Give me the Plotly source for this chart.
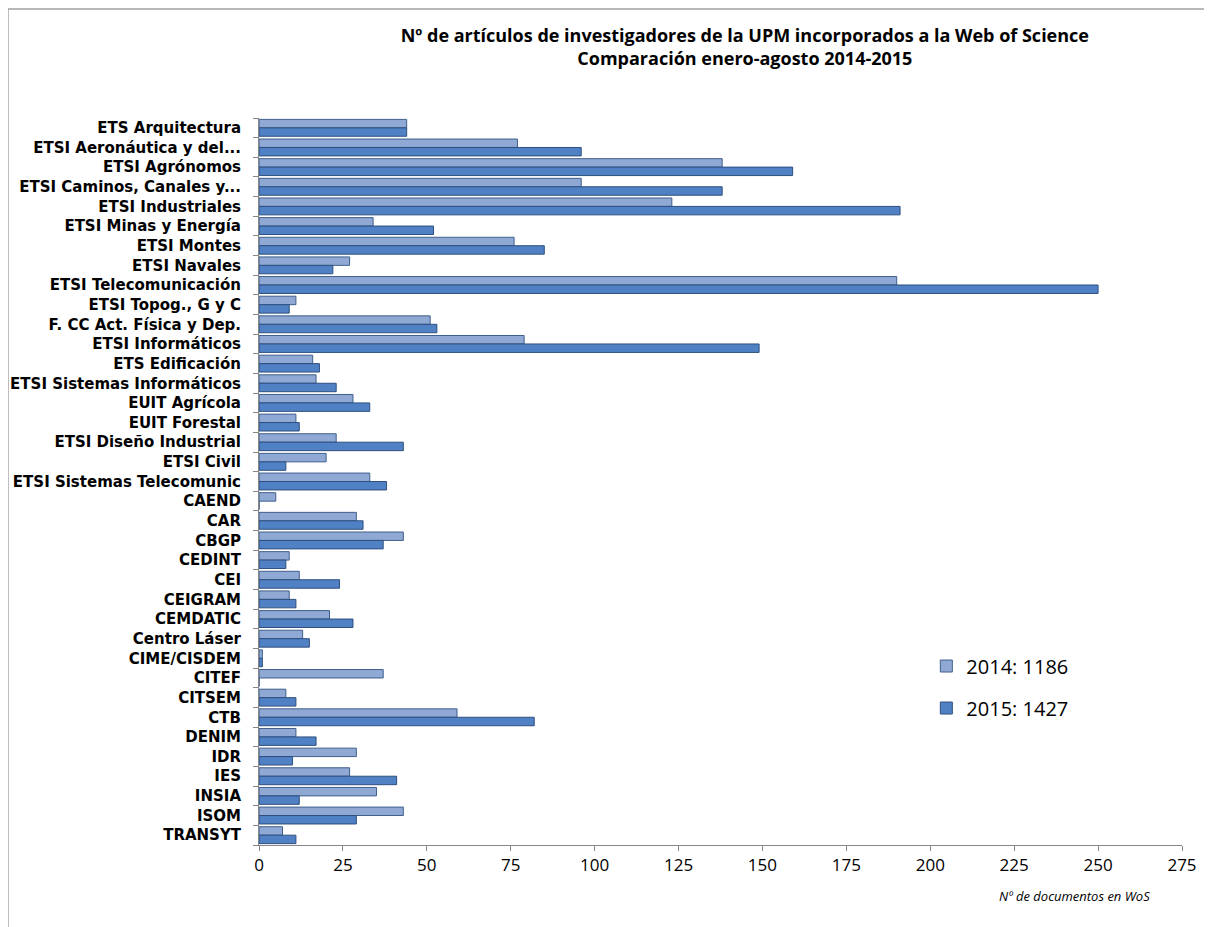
import plotly.graph_objects as go

categories = [
    "ETS Arquitectura", "ETSI Aeronáutica y del...", "ETSI Agrónomos", "ETSI Caminos, Canales y...",
    "ETSI Industriales", "ETSI Minas y Energía", "ETSI Montes", "ETSI Navales",
    "ETSI Telecomunicación", "ETSI Topog., G y C", "F. CC Act. Física y Dep.", "ETSI Informáticos",
    "ETS Edificación", "ETSI Sistemas Informáticos", "EUIT Agrícola", "EUIT Forestal",
    "ETSI Diseño Industrial", "ETSI Civil", "ETSI Sistemas Telecomunic", "CAEND", "CAR", "CBGP",
    "CEDINT", "CEI", "CEIGRAM", "CEMDATIC", "Centro Láser", "CIME/CISDEM", "CITEF", "CITSEM",
    "CTB", "DENIM", "IDR", "IES", "INSIA", "ISOM", "TRANSYT",
]
values_2014 = [44, 77, 138, 96, 123, 34, 76, 27, 190, 11, 51, 79, 16, 17, 28, 11, 23, 20, 33, 5,
               29, 43, 9, 12, 9, 21, 13, 1, 37, 8, 59, 11, 29, 27, 35, 43, 7]
values_2015 = [44, 96, 159, 138, 191, 52, 85, 22, 250, 9, 53, 149, 18, 23, 33, 12, 43, 8, 38, 0,
               31, 37, 8, 24, 11, 28, 15, 1, 0, 11, 82, 17, 10, 41, 12, 29, 11]
series_names = ["2014: 1186", "2015: 1427"]
x_ticks = [0, 25, 50, 75, 100, 125, 150, 175, 200, 225, 250, 275]

FONT = "Open Sans"
LABEL_FONT = "DejaVu Sans"

fig = go.Figure()
fig.add_trace(go.Bar(
    y=categories, x=values_2014, orientation="h", name=series_names[0],
    marker=dict(color="#8FA9D4", line=dict(color="#3F5F8C", width=1)),
    legendgroup="a",
))
fig.add_trace(go.Bar(
    y=categories, x=values_2015, orientation="h", name=series_names[1],
    marker=dict(color="#4F81C4", line=dict(color="#2F4F7F", width=1)),
    legendgroup="b",
))

fig.update_layout(
    width=1204, height=919,
    paper_bgcolor="white", plot_bgcolor="white",
    margin=dict(l=251, r=30, t=110, b=82),
    barmode="group", bargap=0.14, bargroupgap=0.0,
    font=dict(family=FONT, color="black"),
    title=dict(
        text="<b>Nº de artículos de investigadores de la UPM incorporados a la Web of Science<br>Comparación enero-agosto 2014-2015</b>",
        x=0.612, xanchor="center", y=0.963, yanchor="top",
        font=dict(family=FONT, size=18, color="black"),
    ),
    legend=dict(
        x=0.723, y=0.273, xanchor="left", yanchor="top",
        font=dict(family=FONT, size=20, color="black"),
        tracegroupgap=13, bgcolor="rgba(0,0,0,0)",
    ),
    showlegend=True,
)
fig.update_yaxes(
    autorange="reversed", showline=True, linecolor="#868686", linewidth=1,
    tickmode="array", tickvals=categories, ticktext=categories,
    ticks="outside", ticklen=5, tickcolor="#868686", tickson="boundaries",
    tickfont=dict(family=LABEL_FONT, size=15, color="black", weight="bold"),
    showgrid=False, ticklabelstandoff=14, automargin=False,
)
fig.update_xaxes(
    range=[0, 275], tickvals=x_ticks, showline=True, linecolor="#868686", linewidth=1,
    ticks="outside", ticklen=5, tickcolor="#868686", showgrid=False,
    tickfont=dict(family=FONT, size=17, color="black"), zeroline=False, automargin=False,
)
fig.add_annotation(
    text="<i>Nº de documentos en WoS</i>", xref="paper", yref="paper",
    x=0.968, y=-0.055, xanchor="right", yanchor="top", showarrow=False,
    font=dict(family=FONT, size=13, color="black"),
)
fig.add_shape(type="line", xref="paper", yref="paper",
              x0=-0.272, x1=1.1, y0=1.150, y1=1.150,
              line=dict(color="#A0A0A0", width=1.5), layer="below")
fig.add_shape(type="line", xref="paper", yref="paper",
              x0=-0.272, x1=-0.272, y0=-0.2, y1=1.150,
              line=dict(color="#A0A0A0", width=1.5), layer="below")

fig.write_html("out.html")
